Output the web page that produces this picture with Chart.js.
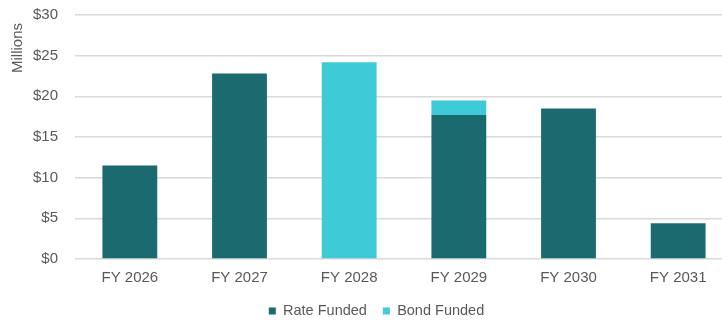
<!DOCTYPE html>
<html>
<head>
<meta charset="utf-8">
<script src="https://cdn.jsdelivr.net/npm/chart.js@4"></script>
<style>
  html, body { margin: 0; padding: 0; background: #fff; overflow: hidden; }
  #wrap { width: 733px; height: 323px; }
</style>
</head>
<body>
<div id="wrap"><canvas id="fundingChart" width="733" height="323"></canvas></div>
<script>
const years = ['FY 2026', 'FY 2027', 'FY 2028', 'FY 2029', 'FY 2030', 'FY 2031'];
const rateFunded = [11.5, 22.8, null, 17.7, 18.5, 4.4];
const bondFunded = [null, null, 24.2, 1.8, null, null];
const yTicks = [0, 5, 10, 15, 20, 25, 30];

const textColor = '#595959';
const fontFamily = '"Liberation Sans", Arial, sans-serif';

Chart.defaults.font.family = fontFamily;
Chart.defaults.font.size = 15;
Chart.defaults.color = textColor;

// vertical "Millions" label near the top of the value axis
const unitLabel = {
    id: 'unitLabel',
    afterDraw(chart) {
        const ctx = chart.ctx;
        ctx.save();
        ctx.translate(18, 48);
        ctx.rotate(-Math.PI / 2);
        ctx.font = '15px ' + fontFamily;
        ctx.fillStyle = textColor;
        ctx.textAlign = 'center';
        ctx.textBaseline = 'middle';
        ctx.fillText('Millions', 0, 0);
        ctx.restore();
    }
};

new Chart(document.getElementById('fundingChart').getContext('2d'), {
    type: 'bar',
    data: {
        labels: years,
        datasets: [{
            label: 'Rate Funded',
            data: rateFunded,
            backgroundColor: '#1b6a70',
            barPercentage: 0.5,
            categoryPercentage: 1
        }, {
            label: 'Bond Funded',
            data: bondFunded,
            backgroundColor: '#3ecad6',
            barPercentage: 0.5,
            categoryPercentage: 1
        }]
    },
    options: {
        responsive: false,
        animation: false,
        layout: { padding: { top: 15, right: 0, bottom: -5.25, left: 20 } },
        scales: {
            x: {
                stacked: true,
                grid: { display: false, drawTicks: true, tickLength: 8 },
                border: { display: false },
                afterFit: axis => {
                    axis.height = 28.75;
                    axis.paddingLeft = 0;
                    axis.paddingRight = 0;
                },
                ticks: { padding: 2, font: { size: 15 } }
            },
            y: {
                stacked: true,
                min: 0,
                max: 30,
                afterBuildTicks: axis => { axis.ticks = yTicks.map(v => ({ value: v })); },
                afterFit: axis => {
                    axis.width = 55;
                    axis.paddingTop = 0;
                    axis.paddingBottom = 0;
                },
                grid: { color: '#d9d9d9', lineWidth: 1.5, drawTicks: false },
                border: { display: false },
                ticks: {
                    padding: 17,
                    font: { size: 15 },
                    callback: v => '$' + v
                }
            }
        },
        plugins: {
            legend: {
                position: 'bottom',
                labels: {
                    boxWidth: 7,
                    boxHeight: 7,
                    padding: 16,
                    font: { size: 14.5 }
                }
            },
            tooltip: { enabled: false }
        }
    },
    plugins: [unitLabel]
});
</script>
</body>
</html>
